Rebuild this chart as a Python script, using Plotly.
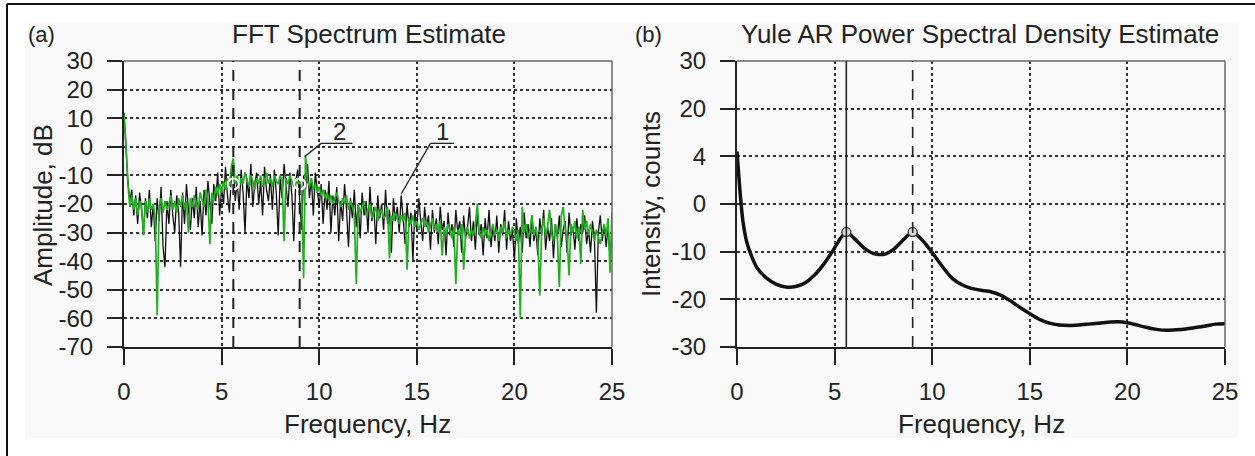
import plotly.graph_objects as go

W, H = 1255, 456
FONT = "Liberation Sans, Arial, sans-serif"
TXT = "#222222"
PANEL = "#f9f9f9"

# ---------------- data ----------------
fft_step_hz = 0.1
fft_freq = [round(i * fft_step_hz, 1) for i in range(251)]

# curve 1 (black): raw FFT amplitude, dB
fft_raw_db = [
    12, -2, -12, -19, -15, -24, -17, -27, -16, -22,
    -30, -18, -25, -15, -28, -20, -33, -18, -26, -14,
    -35, -42, -19, -27, -15, -24, -30, -17, -23, -42,
    -16, -27, -13, -22, -29, -18, -25, -14, -28, -19,
    -31, -15, -24, -12, -21, -27, -13, -19, -9, -24,
    -14, -20, -7, -17, -23, -10, -5, -19, -12, -22,
    -8, -16, -30, -11, -18, -6, -21, -13, -9, -20,
    -12, -24, -7, -15, -19, -10, -22, -8, -16, -31,
    -11, -18, -6, -14, -21, -9, -17, -33, -12, -8,
    -20, -29, -10, -15, -6, -18, -11, -24, -9, -16,
    -21, -13, -27, -15, -22, -12, -30, -17, -24, -14,
    -33, -19, -26, -13, -22, -35, -18, -25, -15, -28,
    -20, -32, -16, -24, -19, -30, -14, -26, -21, -34,
    -17, -25, -20, -29, -15, -27, -22, -37, -18, -26,
    -21, -30, -17, -25, -34, -20, -28, -23, -40, -22,
    -29, -18, -26, -33, -21, -28, -24, -36, -22, -30,
    -25, -34, -21, -29, -26, -38, -23, -31, -27, -35,
    -22, -30, -26, -37, -24, -32, -28, -21, -33, -26,
    -36, -23, -31, -27, -38, -25, -32, -22, -35, -28,
    -33, -24, -37, -27, -31, -22, -36, -26, -33, -29,
    -40, -25, -34, -28, -37, -23, -32, -27, -35, -24,
    -33, -29, -38, -25, -31, -22, -36, -28, -33, -25,
    -39, -27, -32, -24, -35, -29, -26, -37, -23, -31,
    -28, -36, -25, -33, -27, -30, -24, -34, -29, -37,
    -26, -32, -58, -30, -24, -33, -27, -35, -28, -39,
    -31,
]

# curve 2 (green): processed FFT amplitude, dB
fft_proc_db = [
    11, 1, -13, -21, -17, -22, -18, -24, -19, -21,
    -31, -19, -23, -18, -22, -20, -25, -59, -21, -18,
    -23, -19, -22, -20, -17, -22, -19, -23, -18, -21,
    -17, -22, -19, -30, -18, -21, -17, -20, -22, -16,
    -19, -21, -15, -18, -34, -16, -19, -14, -17, -13,
    -16, -12, -15, -11, -14, -7, -4, -13, -10, -14,
    -11, -13, -9, -12, -14, -10, -12, -15, -11, -13,
    -10, -14, -12, -9, -13, -11, -14, -10, -12, -13,
    -10, -12, -33, -11, -13, -10, -12, -14, -11, -13,
    -12, -15, -46, -3, -12, -14, -11, -15, -13, -16,
    -14, -17, -15, -18, -16, -19, -17, -20, -18, -16,
    -19, -21, -18, -20, -17, -22, -19, -21, -24, -48,
    -20, -23, -21, -19, -24, -22, -20, -25, -23, -21,
    -26, -23, -22, -25, -24, -21, -39, -24, -26, -23,
    -25, -27, -24, -26, -23, -43, -25, -27, -24, -28,
    -26, -29, -27, -25, -28, -26, -30, -27, -25, -29,
    -27, -30, -26, -38, -28, -31, -27, -29, -32, -28,
    -48, -29, -31, -27, -43, -30, -28, -32, -29, -31,
    -27, -20, -30, -32, -28, -31, -29, -33, -30, -27,
    -31, -29, -33, -28, -30, -26, -32, -29, -31, -28,
    -30, -33, -29, -60, -21, -30, -27, -32, -29, -24,
    -31, -28, -33, -52, -29, -25, -31, -28, -22, -30,
    -33, -27, -31, -49, -24, -21, -29, -32, -45, -27,
    -30, -26, -32, -28, -41, -22, -29, -26, -31, -27,
    -30, -33, -29, -32, -34, -30, -27, -31, -25, -44,
    -23,
]

peak_freqs = [5.6, 9.0]
fft_peak_db = [-13, -13]

ar_freq = [0, 0.1, 0.2, 0.3, 0.5, 0.75, 1.0, 1.5, 2.0, 2.5, 3.0, 3.5, 4.0, 4.5,
           5.0, 5.3, 5.6, 6.0, 6.5, 7.0, 7.5, 8.0, 8.5, 9.0, 9.5, 10.0, 10.5,
           11.0, 11.5, 12.0, 12.5, 13.0, 13.5, 14.0, 14.5, 15.0, 15.5, 16.0,
           16.5, 17.0, 17.5, 18.0, 18.5, 19.0, 19.5, 20.0, 20.5, 21.0, 21.5,
           22.0, 22.5, 23.0, 23.5, 24.0, 24.5, 25.0]
ar_level = [11, 5.5, 0.5, -3.5, -8, -11, -13.2, -15.5, -16.8, -17.4, -17.3,
            -16.5, -14.8, -12.3, -9.2, -7.2, -5.9, -7.2, -9.2, -10.4, -10.6,
            -9.6, -7.6, -5.9, -7.6, -10.2, -13, -15.5, -16.9, -17.7, -18.1,
            -18.4, -19.1, -20.3, -21.7, -23, -24.2, -25, -25.4, -25.5, -25.4,
            -25.2, -25, -24.8, -24.7, -24.9, -25.4, -25.9, -26.3, -26.5, -26.4,
            -26.2, -25.9, -25.6, -25.2, -25.1]
ar_peak_level = [-5.9, -5.9]

x_ticks = [0, 5, 10, 15, 20, 25]
left_y_vals = [30, 20, 10, 0, -10, -20, -30, -40, -50, -60, -70]
left_y_text = ["30", "20", "10", "0", "-10", "-20", "-30", "-40", "-50", "-60", "-70"]
right_y_vals = [-30, -20, -10, 0, 10, 20, 30]
right_y_text = ["-30", "-20", "-10", "0", "4", "20", "30"]

# ---------------- helpers ----------------
def px(x):
    return x / W


def py(y):
    return 1 - y / H


tickfont = dict(family=FONT, size=24, color=TXT)


def xaxis(domain, anchor):
    return dict(domain=domain, anchor=anchor, range=[0, 25], tickvals=x_ticks,
                showgrid=True, gridcolor="#333333", griddash="dot", gridwidth=1.5,
                showline=True, linecolor="#222222", linewidth=2,
                ticks="outside", ticklen=16, tickwidth=2, tickcolor="#222222",
                zeroline=False, tickfont=tickfont, ticklabelstandoff=6,
                automargin=False, fixedrange=True)


def yaxis(domain, anchor, rng, vals, text):
    return dict(domain=domain, anchor=anchor, range=rng, tickvals=vals, ticktext=text,
                showgrid=True, gridcolor="#333333", griddash="dot", gridwidth=1.5,
                showline=True, linecolor="#222222", linewidth=2,
                ticks="outside", ticklen=15, tickwidth=2, tickcolor="#222222",
                zeroline=False, tickfont=tickfont, ticklabelstandoff=9,
                automargin=False, fixedrange=True)


ydom = [py(347), py(61)]
xdom1 = [px(124), px(612)]
xdom2 = [px(737), px(1225)]

fig = go.Figure()
fig.add_trace(go.Scatter(x=fft_freq, y=fft_raw_db, xaxis="x", yaxis="y", mode="lines",
                         line=dict(color="#111111", width=1.3), name="1"))
fig.add_trace(go.Scatter(x=fft_freq, y=fft_proc_db, xaxis="x", yaxis="y", mode="lines",
                         line=dict(color="#22b022", width=1.7), name="2"))
fig.add_trace(go.Scatter(x=peak_freqs, y=fft_peak_db, xaxis="x", yaxis="y", mode="markers",
                         marker=dict(symbol="circle-open", size=11, color="white",
                                     line=dict(width=2.2)), name="peaks"))
fig.add_trace(go.Scatter(x=ar_freq, y=ar_level, xaxis="x2", yaxis="y2", mode="lines",
                         line=dict(color="#111111", width=3.5, shape="spline", smoothing=0.6),
                         name="AR"))
fig.add_trace(go.Scatter(x=peak_freqs, y=ar_peak_level, xaxis="x2", yaxis="y2", mode="markers",
                         marker=dict(symbol="circle", size=9, color="#dddddd",
                                     line=dict(color="#444444", width=1.5)), name="AR peaks"))

shapes = []
# background panel + outer frame
shapes.append(dict(type="rect", xref="paper", yref="paper", x0=px(25), x1=px(1238),
                   y0=py(438), y1=py(22), fillcolor=PANEL, line=dict(width=0), layer="below"))
shapes.append(dict(type="line", xref="paper", yref="paper", x0=px(7), x1=1.01,
                   y0=py(4), y1=py(4), line=dict(color="#111111", width=2)))
shapes.append(dict(type="line", xref="paper", yref="paper", x0=px(7), x1=px(7),
                   y0=py(4), y1=-0.01, line=dict(color="#111111", width=2)))
# top/right plot borders
for xa, ya in (("x", "y"), ("x2", "y2")):
    shapes.append(dict(type="line", xref=f"{xa} domain", yref=f"{ya} domain",
                       x0=0, x1=1, y0=1, y1=1, line=dict(color="#666666", width=1.5)))
    shapes.append(dict(type="line", xref=f"{xa} domain", yref=f"{ya} domain",
                       x0=1, x1=1, y0=0, y1=1, line=dict(color="#666666", width=1.5)))
# peak marker lines
for f in peak_freqs:
    shapes.append(dict(type="line", xref="x", yref="y domain", x0=f, x1=f, y0=0, y1=1,
                       line=dict(color="#222222", width=2, dash="11px,8px")))
shapes.append(dict(type="line", xref="x2", yref="y2 domain", x0=peak_freqs[0], x1=peak_freqs[0],
                   y0=0, y1=1, line=dict(color="#222222", width=1.6)))
shapes.append(dict(type="line", xref="x2", yref="y2 domain", x0=peak_freqs[1], x1=peak_freqs[1],
                   y0=0, y1=1, line=dict(color="#222222", width=1.6, dash="11px,8px")))
# leader lines for labels 1 and 2
shapes.append(dict(type="line", xref="x", yref="y", x0=10.1, x1=11.7, y0=1.2, y1=1.2,
                   line=dict(color="#222222", width=1.3)))
shapes.append(dict(type="line", xref="x", yref="y", x0=10.1, x1=9.25, y0=1.2, y1=-3.5,
                   line=dict(color="#222222", width=1.3)))
shapes.append(dict(type="line", xref="x", yref="y", x0=15.7, x1=16.9, y0=1.2, y1=1.2,
                   line=dict(color="#222222", width=1.3)))
shapes.append(dict(type="line", xref="x", yref="y", x0=15.7, x1=14.2, y0=1.2, y1=-16.5,
                   line=dict(color="#222222", width=1.3)))

annotations = []


def add_text(text, x, y, size=26, angle=0, xanchor="center"):
    annotations.append(dict(text=text, xref="paper", yref="paper", x=px(x), y=py(y),
                            xanchor=xanchor, yanchor="middle", showarrow=False,
                            textangle=angle, font=dict(family=FONT, size=size, color=TXT)))


add_text("(a)", 26, 34, size=22, xanchor="left")
add_text("(b)", 633, 34, size=22, xanchor="left")
add_text("FFT Spectrum Estimate", 369, 34, size=26)
add_text("Yule AR Power Spectral Density Estimate", 980, 34, size=26)
add_text("Frequency, Hz", 368, 424, size=26)
add_text("Frequency, Hz", 981, 424, size=26)
add_text("Amplitude, dB", 43, 205, size=26, angle=-90)
add_text("Intensity, counts", 651, 204, size=26, angle=-90)
annotations.append(dict(text="2", xref="x", yref="y", x=11.05, y=5.2, showarrow=False,
                        font=dict(family=FONT, size=24, color=TXT)))
annotations.append(dict(text="1", xref="x", yref="y", x=16.3, y=5.2, showarrow=False,
                        font=dict(family=FONT, size=24, color=TXT)))

fig.update_layout(
    width=W, height=H,
    margin=dict(l=0, r=0, t=0, b=0, autoexpand=False),
    paper_bgcolor="white",
    plot_bgcolor=PANEL,
    showlegend=False,
    xaxis=xaxis(xdom1, "y"),
    yaxis=yaxis(ydom, "x", [-70, 30], left_y_vals, left_y_text),
    xaxis2=xaxis(xdom2, "y2"),
    yaxis2=yaxis(ydom, "x2", [-30, 30], right_y_vals, right_y_text),
    shapes=shapes,
    annotations=annotations,
)

fig.write_html("out.html", config={"displayModeBar": False},
               post_script="document.body.style.margin='0';document.body.style.padding='0';")
